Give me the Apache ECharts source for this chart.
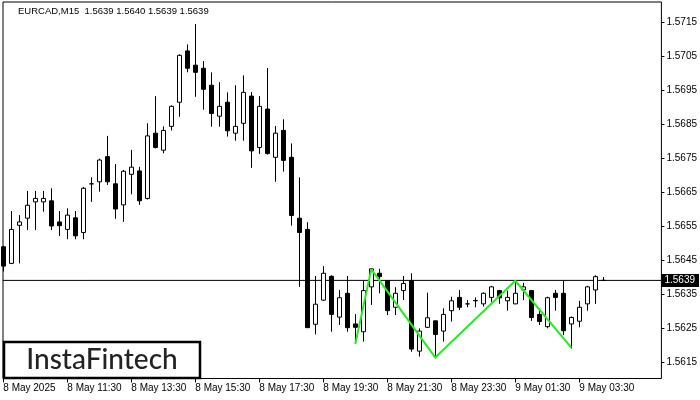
<!DOCTYPE html>
<html><head><meta charset="utf-8">
<script src="https://cdn.jsdelivr.net/npm/echarts@6/dist/echarts.min.js"></script>
<style>html,body{margin:0;padding:0;background:#fff}#c{width:700px;height:400px}</style>
</head><body><div id="c"></div>
<script>
// ---- data (EURCAD M15, 8 May 2025 09:30 .. 9 May 04:15) ----
const opens = [1.56489,1.56440,1.56552,1.56573,1.56621,1.56621,1.56624,1.56562,1.56540,1.56574,
 1.56531,1.56674,1.56680,1.56754,1.56674,1.56612,1.56702,1.56712,1.56631,1.56823,
 1.56773,1.56843,1.56914,1.57065,1.57023,1.57014,1.56964,1.56873,1.56914,1.56823,
 1.56852,1.56932,1.56781,1.56894,1.56752,1.56831,1.56752,1.56573,1.56540,1.56261,
 1.56332,1.56402,1.56282,1.56352,1.56262,1.56239,1.56371,1.56411,1.56389,1.56311,
 1.56360,1.56389,1.56182,1.56252,1.56271,1.56241,1.56301,1.56340,1.56321,1.56330,
 1.56321,1.56340,1.56360,1.56330,1.56321,1.56362,1.56360,1.56290,1.56254,1.56352,
 1.56352,1.56262,1.56270,1.56321,1.56362,1.56390];
const highs = [1.56492,1.56594,1.56582,1.56653,1.56653,1.56653,1.56661,1.56594,1.56602,1.56594,
 1.56665,1.56693,1.56748,1.56815,1.56732,1.56715,1.56774,1.56724,1.56852,1.56932,
 1.56843,1.56905,1.57055,1.57084,1.57144,1.57035,1.57002,1.56973,1.56943,1.56964,
 1.56993,1.56944,1.56932,1.57015,1.56844,1.56864,1.56793,1.56693,1.56561,1.56403,
 1.56432,1.56405,1.56362,1.56403,1.56291,1.56389,1.56426,1.56424,1.56390,1.56370,
 1.56403,1.56411,1.56249,1.56354,1.56272,1.56308,1.56342,1.56362,1.56332,1.56340,
 1.56355,1.56374,1.56362,1.56360,1.56389,1.56383,1.56362,1.56303,1.56342,1.56362,
 1.56389,1.56284,1.56330,1.56374,1.56405,1.56400];
const lows = [1.56416,1.56438,1.56440,1.56538,1.56538,1.56592,1.56538,1.56521,1.56511,1.56511,
 1.56511,1.56621,1.56651,1.56671,1.56571,1.56562,1.56643,1.56612,1.56628,1.56778,
 1.56764,1.56831,1.56871,1.57002,1.56930,1.56892,1.56842,1.56842,1.56813,1.56801,
 1.56801,1.56721,1.56762,1.56760,1.56680,1.56710,1.56551,1.56371,1.56250,1.56231,
 1.56330,1.56239,1.56259,1.56239,1.56206,1.56210,1.56318,1.56352,1.56288,1.56288,
 1.56332,1.56180,1.56166,1.56250,1.56161,1.56210,1.56269,1.56303,1.56311,1.56311,
 1.56313,1.56327,1.56321,1.56301,1.56320,1.56332,1.56271,1.56259,1.56249,1.56301,
 1.56229,1.56190,1.56252,1.56301,1.56321,1.56390];
const closes = [1.56432,1.56540,1.56562,1.56611,1.56631,1.56631,1.56550,1.56551,1.56582,1.56521,
 1.56661,1.56674,1.56744,1.56680,1.56600,1.56711,1.56723,1.56624,1.56815,1.56781,
 1.56831,1.56902,1.57052,1.57014,1.57002,1.56952,1.56881,1.56902,1.56830,1.56843,
 1.56943,1.56771,1.56902,1.56763,1.56823,1.56743,1.56581,1.56531,1.56251,1.56320,
 1.56411,1.56290,1.56339,1.56251,1.56252,1.56360,1.56424,1.56401,1.56301,1.56352,
 1.56381,1.56188,1.56241,1.56280,1.56231,1.56290,1.56330,1.56311,1.56321,1.56331,
 1.56352,1.56371,1.56339,1.56340,1.56352,1.56371,1.56281,1.56269,1.56339,1.56340,
 1.56242,1.56281,1.56311,1.56371,1.56401,1.56390];
const emptySlots = 7;                       // chart shift space on the right
const tickLabels = ['8 May 2025','8 May 11:30','8 May 13:30','8 May 15:30','8 May 17:30',
 '8 May 19:30','8 May 21:30','8 May 23:30','9 May 01:30','9 May 03:30'];
const labelEvery = 8;
const priceTicks = [1.5615,1.5625,1.5635,1.5645,1.5655,1.5665,1.5675,1.5685,1.5695,1.5705,1.5715];
const lastPrice = 1.5639;
const headerValues = ['1.5639','1.5640','1.5639','1.5639'];
const patternIdx = [44,46,54,64,71];
const patternPrice = [1.56203,1.56423,1.56163,1.56389,1.56192];
const yMin = 1.561015, yMax = 1.572088;

// ---- build ----
const nCat = opens.length + emptySlots;
const categories = [];
for (let i = 0; i < nCat; i++) categories.push('b' + i);
const candles = opens.map((o, i) => [o, closes[i], lows[i], highs[i]]);
const pattern = categories.map((_, i) => { const j = patternIdx.indexOf(i); return j >= 0 ? patternPrice[j] : null; });
const showIdx = (i) => i % labelEvery === 0 && i / labelEvery < tickLabels.length;
const FONT = 'Liberation Sans';

const chart = echarts.init(document.getElementById('c'), null, {renderer: 'canvas'});
chart.setOption({
  animation: false,
  backgroundColor: '#fff',
  title: {
    text: 'EURCAD,M15  ' + headerValues.join(' '),
    left: 18, top: 6, padding: 0,
    textStyle: {fontFamily: FONT, fontSize: 9.5, fontWeight: 'normal', color: '#000'}
  },
  grid: [
    {left: 3, right: 38, top: 2, bottom: 21.5, show: true, borderColor: '#000', borderWidth: 1, backgroundColor: '#fff'},
    {left: 3.3, width: 656, top: 2, bottom: 21.5}
  ],
  xAxis: [
    {gridIndex: 0, type: 'category', data: ['start', 'end'], boundaryGap: false, show: false},
    {gridIndex: 1, type: 'category', data: categories, boundaryGap: false,
     axisLine: {show: false},
     axisTick: {show: true, length: 4, interval: (i) => showIdx(i), lineStyle: {color: '#000', width: 1}},
     axisLabel: {interval: (i) => showIdx(i), formatter: (v, i) => showIdx(i) ? tickLabels[i / labelEvery] : '',
       align: 'left', margin: 5, fontFamily: FONT, fontSize: 10, color: '#000'},
     splitLine: {show: false}}
  ],
  yAxis: [
    {gridIndex: 0, type: 'value', position: 'right', min: yMin, max: yMax, scale: true,
     axisLine: {show: false},
     axisTick: {show: true, length: 3, customValues: priceTicks, lineStyle: {color: '#000'}},
     axisLabel: {customValues: priceTicks, formatter: (v) => v.toFixed(4), align: 'left', margin: 5,
       fontFamily: FONT, fontSize: 10, color: '#000'},
     splitLine: {show: false}},
    {gridIndex: 1, type: 'value', min: yMin, max: yMax, scale: true, show: false, splitLine: {show: false}}
  ],
  series: [
    {type: 'line', name: 'bid', xAxisIndex: 0, yAxisIndex: 0, data: [lastPrice, lastPrice],
     symbol: 'none', silent: true, z: 1, lineStyle: {color: '#000', width: 1},
     endLabel: {show: true, distance: 0, formatter: () => lastPrice.toFixed(4),
       color: '#fff', backgroundColor: '#000', padding: [2, 4, 1, 3], fontFamily: FONT, fontSize: 10}},
    {type: 'candlestick', xAxisIndex: 1, yAxisIndex: 1, data: candles, barWidth: 5, z: 2,
     itemStyle: {color: '#fff', color0: '#000', borderColor: '#000', borderColor0: '#000', borderWidth: 1}},
    {type: 'line', xAxisIndex: 1, yAxisIndex: 1, data: pattern, connectNulls: true, symbol: 'none',
     lineStyle: {color: '#22ee22', width: 2}, z: 5, silent: true}
  ],
  graphic: [
    {type: 'rect', shape: {x: 4, y: 342, width: 196, height: 36}, style: {fill: '#fff', stroke: '#000', lineWidth: 2.5}, z: 100},
    {type: 'text', x: 102, y: 360, style: {text: 'InstaFintech', font: '500 28px Lato', fill: '#222', align: 'center', verticalAlign: 'middle'}, z: 101}
  ]
});
</script></body></html>
